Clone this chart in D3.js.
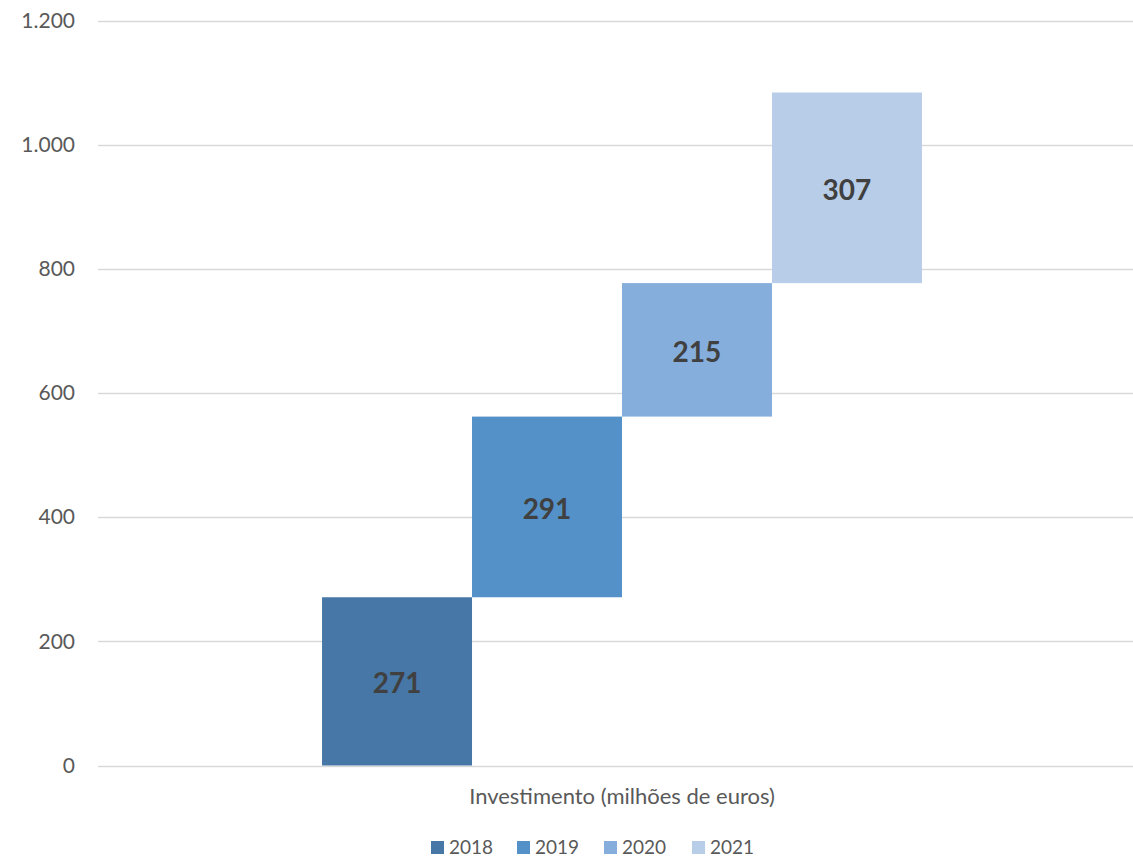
<!DOCTYPE html>
<html>
<head>
<meta charset="utf-8">
<script src="https://cdnjs.cloudflare.com/ajax/libs/d3/7.8.5/d3.min.js"></script>
<style>
    body { margin: 0; background: #fff; }
    svg { display: block; font-family: Lato, "Open Sans", sans-serif; }
</style>
</head>
<body>
<script>
// Chart data
var category = ['Investimento (milhões de euros)'];
var years = ['2018', '2019', '2020', '2021'];
var values = [271, 291, 215, 307];
var colors = ['#4677a7', '#5491c8', '#85aedc', '#b8cde8'];
var y_ticks = [0, 200, 400, 600, 800, 1000, 1200];

var width = 1133, height = 859;
var margin = { left: 98, right: -13, top: 20, bottom: 94 };

var svg = d3.select('body').append('svg')
    .attr('width', width)
    .attr('height', height);

// Waterfall: each year starts where the previous one ended
var data = [];
var base = 0;
years.forEach(function (year, i) {
    data.push({ year: year, start: base, end: base + values[i], value: values[i] });
    base += values[i];
});

var y = d3.scaleLinear()
    .domain([0, 1200])
    .range([height - margin.bottom + 0.5, margin.top + 0.5]);

var x0 = d3.scaleBand()
    .domain(category)
    .range([margin.left, width - margin.right])
    .paddingInner(0.2719)
    .paddingOuter(0.2719);

var x1 = d3.scaleBand()
    .domain(years)
    .range([0, x0.bandwidth()])
    .padding(0);

// Grid lines
svg.append('g')
    .selectAll('line')
    .data(y_ticks)
    .enter()
    .append('line')
    .attr('x1', margin.left)
    .attr('x2', width - margin.right)
    .attr('y1', function (d) { return Math.round(y(d)) + 0.5; })
    .attr('y2', function (d) { return Math.round(y(d)) + 0.5; })
    .attr('stroke', '#d9d9d9')
    .attr('stroke-width', 1.3);

// Y axis labels
var yAxis = d3.axisLeft(y)
    .tickValues(y_ticks)
    .tickSize(0)
    .tickPadding(23)
    .tickFormat(function (d) { return d3.format(',')(d).replace(/,/g, '.'); });

var gy = svg.append('g')
    .attr('transform', 'translate(' + margin.left + ',0)')
    .call(yAxis);
gy.select('.domain').remove();
gy.selectAll('text')
    .attr('font-size', 21)
    .attr('fill', '#595959')
    .style('font-family', 'Lato, sans-serif');

// Bars
var group = svg.append('g')
    .attr('transform', 'translate(' + x0(category[0]) + ',0)');

group.selectAll('rect')
    .data(data)
    .enter()
    .append('rect')
    .attr('x', function (d) { return x1(d.year); })
    .attr('width', x1.bandwidth())
    .attr('y', function (d) { return y(d.end); })
    .attr('height', function (d) { return y(d.start) - y(d.end); })
    .attr('fill', function (d, i) { return colors[i]; });

// Value labels
group.selectAll('text')
    .data(data)
    .enter()
    .append('text')
    .attr('x', function (d) { return x1(d.year) + x1.bandwidth() / 2; })
    .attr('y', function (d) { return (y(d.start) + y(d.end)) / 2; })
    .attr('dy', '0.42em')
    .attr('text-anchor', 'middle')
    .attr('font-size', 28)
    .attr('font-weight', 'bold')
    .attr('fill', '#404040')
    .text(function (d) { return d.value; });

// X axis label
var xAxis = d3.axisBottom(x0).tickSize(0).tickPadding(23);
var gx = svg.append('g')
    .attr('transform', 'translate(0,' + y(0) + ')')
    .call(xAxis);
gx.select('.domain').remove();
gx.selectAll('text')
    .attr('font-size', 22)
    .attr('fill', '#595959')
    .style('font-family', 'Lato, sans-serif');

// Legend
var legend_x = [431, 517, 604, 692];
var legend = svg.append('g')
    .selectAll('g')
    .data(years)
    .enter()
    .append('g')
    .attr('transform', function (d, i) { return 'translate(' + legend_x[i] + ',841)'; });

legend.append('rect')
    .attr('width', 13)
    .attr('height', 13)
    .attr('fill', function (d, i) { return colors[i]; });

legend.append('text')
    .attr('x', 18)
    .attr('y', 13)
    .attr('font-size', 19)
    .attr('fill', '#595959')
    .text(function (d) { return d; });
</script>
</body>
</html>
